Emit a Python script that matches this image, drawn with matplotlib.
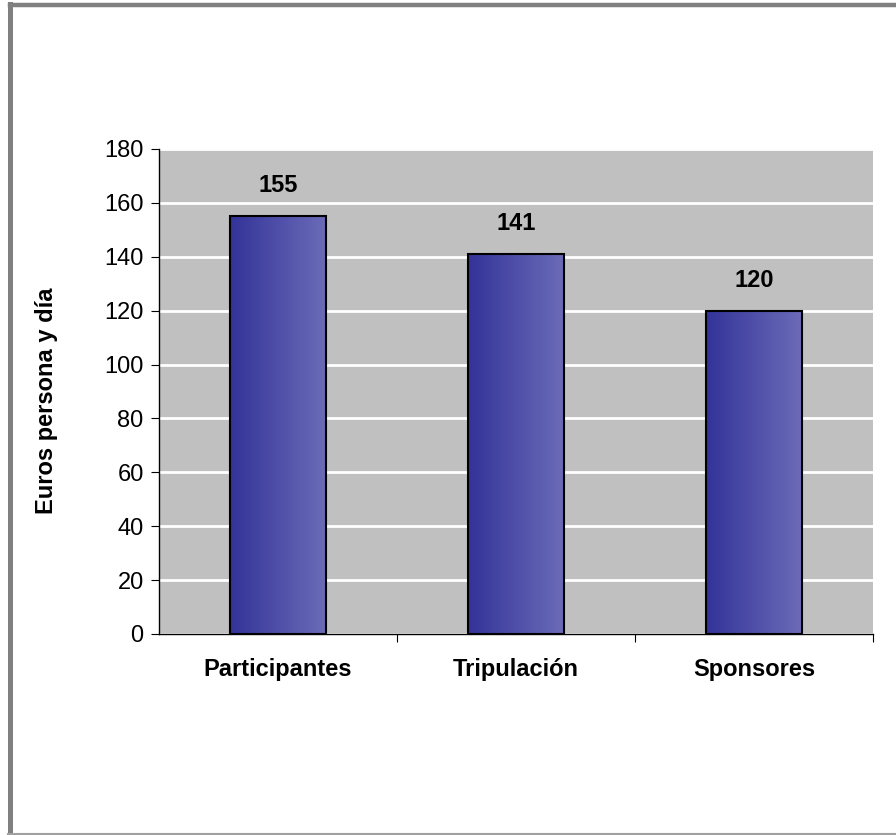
import matplotlib
matplotlib.use("Agg")
import matplotlib.pyplot as plt
import numpy as np
from matplotlib.patches import Rectangle
from matplotlib.lines import Line2D
from matplotlib.colors import LinearSegmentedColormap

categories = ["Participantes", "Tripulación", "Sponsores"]
values = [155, 141, 120]
yticks = [0, 20, 40, 60, 80, 100, 120, 140, 160, 180]

plt.rcParams['font.family'] = ['Liberation Sans', 'DejaVu Sans']

W, H = 896, 835
fig = plt.figure(figsize=(W/100, H/100), dpi=100)

def fx(px):
    return px / W

def fy(py):
    return 1 - py / H

# outer frame: thick top and left, thin bottom
fig.add_artist(Line2D([fx(9.5), fx(896)], [fy(5), fy(5)], transform=fig.transFigure,
                      color='#808080', linewidth=3.2))
fig.add_artist(Line2D([fx(9.5), fx(9.5)], [fy(3.5), fy(834)], transform=fig.transFigure,
                      color='#808080', linewidth=3.6))
fig.add_artist(Line2D([fx(8), fx(896)], [fy(833.5), fy(833.5)], transform=fig.transFigure,
                      color='#a0a0a0', linewidth=1.5))

ax = fig.add_axes([fx(159), fy(634), (873-159)/W, (634-149)/H])
ax.set_facecolor('#c0c0c0')
ax.set_xlim(0, 3)
ax.set_ylim(0, 180)
ax.set_yticks(yticks)
ax.set_yticklabels([str(t) for t in yticks], fontsize=17)
ax.yaxis.grid(True, color='white', linewidth=2)
ax.set_axisbelow(True)
for s in ['top', 'right']:
    ax.spines[s].set_visible(False)
ax.spines['left'].set_linewidth(1)
ax.spines['bottom'].set_linewidth(1)
ax.tick_params(axis='y', direction='out', length=6, pad=5)
ax.set_xticks([1, 2, 3])
ax.set_xticklabels([])
ax.tick_params(axis='x', direction='out', length=6)
for i, c in enumerate(categories):
    ax.text(i + 0.5, -13.3, c, ha='center', va='center', fontsize=17, fontweight='bold')

cmap = LinearSegmentedColormap.from_list('g', ['#333399', '#6b6bb8'])
grad = np.linspace(0, 1, 256).reshape(1, -1)
bw = 0.4
for i, v in enumerate(values):
    x0 = i + 0.5 - bw/2
    rect = Rectangle((x0, 0), bw, v, facecolor='none', edgecolor='black', linewidth=1.5, zorder=4)
    ax.add_patch(rect)
    im = ax.imshow(grad, cmap=cmap, extent=[x0, x0 + bw, 0, v], aspect='auto', zorder=3)
    im.set_clip_path(rect)
    ax.text(i + 0.5, v + 7, str(v), ha='center', va='bottom', fontsize=17, fontweight='bold')

ax.set_xlim(0, 3)
ax.set_ylim(0, 180)

fig.text(fx(46), fy(401), 'Euros persona y día', rotation=90, ha='center', va='center',
         fontsize=17, fontweight='bold')

fig.savefig('out.png', dpi=100)
